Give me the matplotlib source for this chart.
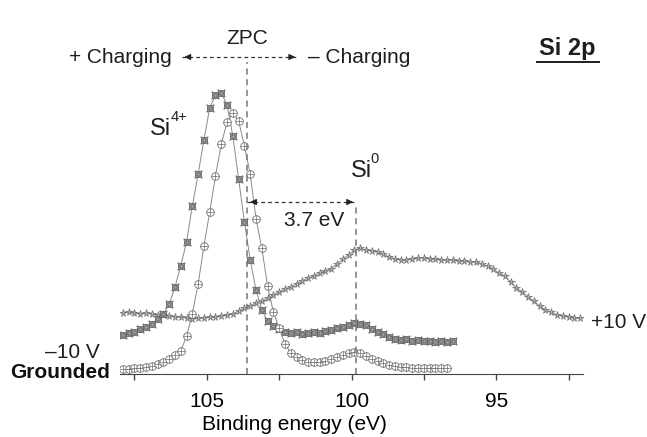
import numpy as np
import matplotlib
matplotlib.use("Agg")
import matplotlib.pyplot as plt

plt.rcParams['font.family'] = ['Liberation Sans', 'DejaVu Sans']

# binding energy grids (eV), 0.2 eV steps
energy_grounded = np.round(np.arange(107.9, 96.6, -0.2), 1)
energy_minus10 = np.round(np.arange(107.9, 96.4, -0.2), 1)
energy_plus10 = np.round(np.arange(107.9, 92.0, -0.2), 1)

# intensity (arb. units)
grounded = [5, 5, 6, 6, 7, 8, 10, 12, 15, 19, 23, 38, 60, 90, 128, 162, 198, 230, 252, 261,
            253, 228, 200, 155, 126, 88, 62, 46, 30, 21, 17, 14, 12, 12, 12, 13, 15, 17, 19, 21,
            22, 21, 18, 15, 13, 11, 9, 8, 7, 7, 6, 6, 6, 6, 6, 6, 6]
minus10 = [39, 41, 42, 45, 47, 50, 55, 60, 70, 87, 108, 132, 168, 200, 234, 266, 279, 281, 269, 238,
           195, 152, 114, 84, 64, 53, 48, 45, 42, 41, 42, 40, 41, 42, 41, 43, 44, 46, 47, 49,
           51, 50, 49, 45, 42, 40, 37, 35, 34, 35, 33, 34, 33, 33, 32, 33, 32, 33]
plus10 = [61, 62, 61, 60, 61, 60, 59, 59, 58, 57, 57, 56, 55, 56, 56, 57, 57, 58, 59, 60,
          63, 66, 68, 71, 73, 76, 79, 82, 85, 87, 90, 93, 96, 98, 101, 103, 105, 110, 115, 119,
          124, 126, 124, 123, 122, 120, 117, 115, 114, 114, 115, 116, 116, 115, 115, 114, 114, 114, 113, 113,
          112, 112, 110, 108, 105, 101, 98, 92, 86, 82, 77, 73, 68, 64, 62, 59, 58, 57, 56, 56]

zpc = 103.6
si0 = 99.85

fig = plt.figure(figsize=(6.47, 4.37), dpi=100)
ax = fig.add_axes([120/647, 63/437, 463/647, 374/437])

line_c = '#8a8a8a'
mk_c = '#6e6e6e'
txt_c = '#1e1e1e'
fs = 15

ax.plot(energy_plus10, plus10, color=line_c, lw=0.7, marker='*', ms=5.5, mfc='#b4b4b4', mec=mk_c, mew=0.5)
ax.plot(energy_minus10, minus10, color=line_c, lw=0.7, marker=(4, 1, 45), ms=7.5, mfc='#999999', mec='#5a5a5a', mew=0.5)
ax.plot(energy_minus10, minus10, ls='none', marker=(4, 1, 0), ms=4.5, mfc='#999999', mec='#5a5a5a', mew=0.4)
ax.plot(energy_grounded, grounded, color=line_c, lw=0.7, marker='o', ms=5.5, mfc='white', mec=mk_c, mew=0.6)
ax.plot(energy_grounded, grounded, ls='none', marker='+', ms=5.5, mec=mk_c, mew=0.5)

# reference lines
ax.plot([zpc, zpc], [0, 312], color='#777777', ls='--', lw=1.1, dashes=(4, 3))
ax.plot([si0, si0], [0, 171], color='#777777', ls='--', lw=1.1, dashes=(4, 3))

arrow_kw = dict(arrowstyle='-|>', color='#222222', lw=0.8, mutation_scale=9)

# 3.7 eV arrow
ax.plot([zpc, si0], [172, 172], color='#333333', ls='--', lw=0.9, dashes=(3, 2.5))
ax.annotate('', xy=(zpc, 172), xytext=(zpc - 0.3, 172), arrowprops=arrow_kw)
ax.annotate('', xy=(si0, 172), xytext=(si0 + 0.3, 172), arrowprops=arrow_kw)
ax.text(101.3, 154, '3.7 eV', fontsize=fs, ha='center', va='center', color=txt_c)

# charging arrows
ax.plot([105.87, 101.85], [317, 317], color='#333333', ls='--', lw=0.9, dashes=(3, 2.5))
ax.annotate('', xy=(105.87, 317), xytext=(105.57, 317), arrowprops=arrow_kw)
ax.annotate('', xy=(101.85, 317), xytext=(102.15, 317), arrowprops=arrow_kw)
ax.text(zpc, 336, 'ZPC', fontsize=fs, ha='center', va='center', color=txt_c)
ax.text(106.2, 317, '+ Charging', fontsize=fs, ha='right', va='center', color=txt_c)
ax.text(101.5, 317, '\u2013 Charging', fontsize=fs, ha='left', va='center', color=txt_c)

# peak labels with raised superscripts
ax.text(106.95, 239, 'Si', fontsize=17, ha='left', va='baseline', color=txt_c)
ax.annotate('4+', xy=(106.95, 239), xytext=(14.5, 13), textcoords='offset points',
            fontsize=10.5, ha='left', va='center', color=txt_c)
ax.text(100.03, 197, 'Si', fontsize=17, ha='left', va='baseline', color=txt_c)
ax.annotate('0', xy=(100.03, 197), xytext=(14.5, 13), textcoords='offset points',
            fontsize=10.5, ha='left', va='center', color=txt_c)

ax.text(91.73, 51, '+10 V', fontsize=fs, ha='left', va='center', color=txt_c, clip_on=False)
ax.text(108.69, 21, '\u201310 V', fontsize=fs, ha='right', va='center', color=txt_c, clip_on=False)
ax.text(108.35, 2, 'Grounded', fontsize=fs, fontweight='bold', ha='right', va='center', color='#111111', clip_on=False)

ax.text(92.55, 326, 'Si 2p', fontsize=17, fontweight='bold', ha='center', va='center', color=txt_c)
ax.plot([93.6, 91.45], [312, 312], color=txt_c, lw=1.4, clip_on=False)

ax.set_xlim(108, 92)
ax.set_ylim(0, 374)
ax.set_xticks([105, 100, 95])
ax.set_xticks([107.5, 102.5, 97.5, 92.5], minor=True)
ax.tick_params(axis='x', which='both', direction='out', length=4, width=1, color='#444444', labelsize=fs, pad=9)
ax.set_yticks([])
for s in ['left', 'top', 'right']:
    ax.spines[s].set_visible(False)
ax.spines['bottom'].set_color('#444444')
ax.set_xlabel('Binding energy (eV)', fontsize=fs, labelpad=3, x=(294 - 120) / 463)

fig.savefig('out.png', dpi=100)
